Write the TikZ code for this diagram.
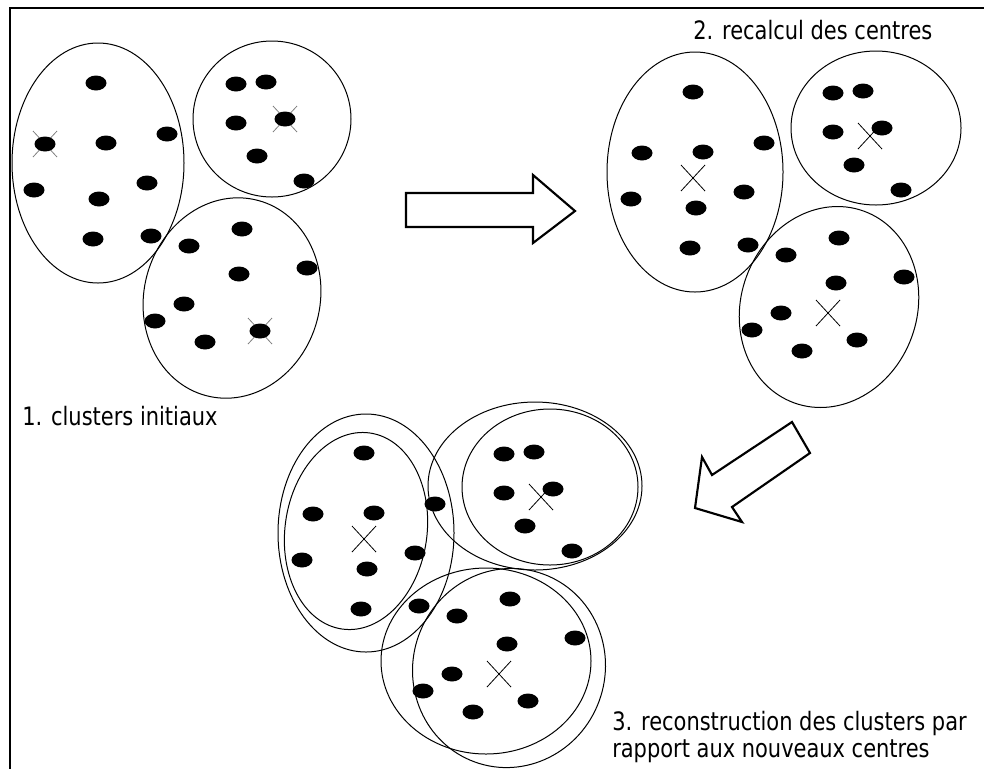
\documentclass[tikz,border=0pt]{standalone}
\usepackage{fontspec}
\setmainfont{DejaVu Sans Condensed}[FakeStretch=0.92]

\begin{document}
\begin{tikzpicture}[x=0.75pt,y=-0.75pt,
			clu/.style={line width=0.75pt},
			crossline/.style={line width=0.6pt},
			bigarrow/.style={draw,line width=1.6pt,line join=miter,fill=white},
			lab/.style={anchor=base west,inner sep=0pt,font=\fontsize{19}{24}\selectfont}]
\useasboundingbox (0,0) rectangle (984,769);
\draw[line width=1.2pt] (984,8) -- (10,8) -- (10,769);

%% 1. clusters initiaux
\draw[clu] (98,163) ellipse [x radius=86,y radius=120];
\draw[clu] (272,119) ellipse [x radius=79,y radius=78];
\draw[clu,rotate around={-15:(232,298)}] (232,298) ellipse [x radius=88,y radius=101];
\foreach \p in {(45,144),(285,119),(260,331)}
	\draw[crossline,gray] \p +(-12,-13) -- +(12,13) \p +(-12,13) -- +(12,-13);
\foreach \p in {(96,83),(45,144),(106,143),(167,134),(34,190),(147,183),(99,199),(93,239),(151,236),
		(236,84),(266,82),(236,123),(285,119),(257,156),(304,181),
		(242,229),(189,246),(307,268),(239,274),(184,304),(155,321),(205,342),(260,331)}
	\fill \p ellipse [x radius=10.5,y radius=7.5];
\node[lab](L1) at (22,425) {1. clusters initiaux};

%% 2. recalcul des centres
\begin{scope}[shift={(597,9)}]
\draw[clu] (98,163) ellipse [x radius=88,y radius=120];
\draw[clu] (279,119) ellipse [x radius=85,y radius=77];
\draw[clu,rotate around={-20:(232,298)}] (232,298) ellipse [x radius=88,y radius=102];
\foreach \p in {(96,83),(45,144),(106,143),(167,134),(34,190),(147,183),(99,199),(93,239),(151,236),
		(236,84),(266,82),(236,123),(285,119),(257,156),(304,181),
		(242,229),(189,246),(307,268),(239,274),(184,304),(155,321),(205,342),(260,331)}
	\fill \p ellipse [x radius=10.5,y radius=7.5];
\foreach \p in {(96,169),(273,127),(231,304)}
	\draw[crossline] \p +(-12,-13) -- +(12,13) \p +(-12,13) -- +(12,-13);
\end{scope}
\node[lab](L2) at (693,39) {2. recalcul des centres};

%% 3. nouveaux clusters
\draw[clu] (366,533) ellipse [x radius=88,y radius=119];
\draw[clu,rotate around={-8:(356,531)}] (356,531) ellipse [x radius=71,y radius=99];
\draw[clu] (535,486) ellipse [x radius=107,y radius=84];
\draw[clu] (550,487) ellipse [x radius=88,y radius=78];
\draw[clu] (486,661) ellipse [x radius=105,y radius=93];
\draw[clu,rotate around={-20:(509,668)}] (509,668) ellipse [x radius=96,y radius=100];
\begin{scope}[shift={(268,370)}]
\foreach \p in {(96,83),(45,144),(106,143),(167,134),(34,190),(147,183),(99,199),(93,239),(151,236),
		(236,84),(266,82),(236,123),(285,119),(257,156),(304,181),
		(242,229),(189,246),(307,268),(239,274),(184,304),(155,321),(205,342),(260,331)}
	\fill \p ellipse [x radius=10.5,y radius=7.5];
\foreach \p in {(96,169),(273,127),(231,304)}
	\draw[crossline] \p +(-12,-13) -- +(12,13) \p +(-12,13) -- +(12,-13);
\end{scope}
\node[lab](L3) at (612,730) {3. reconstruction des clusters par};
\node[lab](L4) at (612,757) {rapport aux nouveaux centres};

\draw[bigarrow] (406,193) -- (533,193) -- (533,175) -- (575,211) -- (533,243) -- (533,227) -- (406,227) -- cycle;
\draw[bigarrow] (792,422) -- (810,453) -- (732,507) -- (742,522) -- (695,508) -- (702,457) -- (712,475) -- cycle;
\end{tikzpicture}
\end{document}
